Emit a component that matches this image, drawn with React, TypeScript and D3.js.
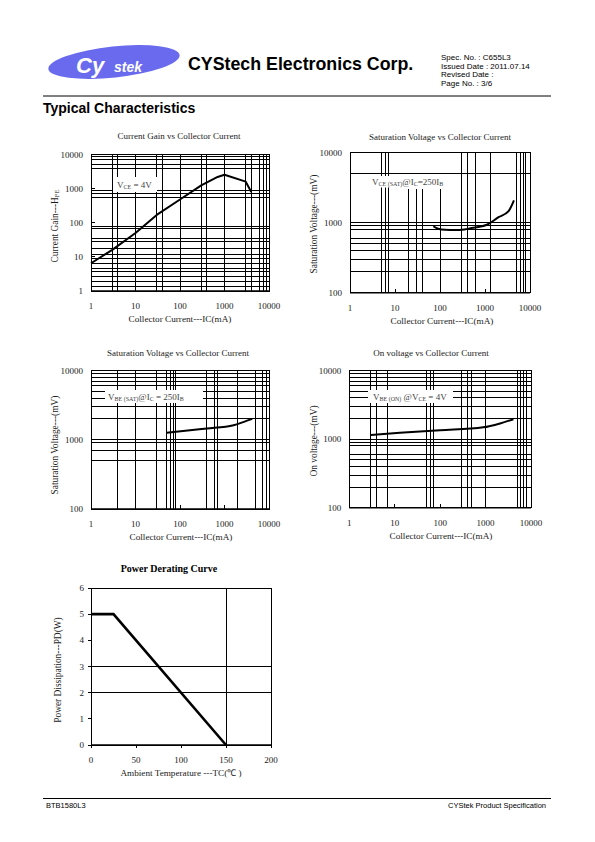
import React from "react";
import * as d3 from "d3";

const SERIF = "'Liberation Serif','Times New Roman',serif";
const SANS = "'Liberation Sans',Arial,sans-serif";

type Part = [string, boolean];

// ---------------- data ----------------
const decadeTicks = [1, 10, 100, 1000, 10000];
const mvTicks = [100, 1000, 10000];

// Chart 1: Current gain vs collector current
const gainIc = [1, 3, 10, 30, 100, 300, 700, 1000, 3000, 4000];
const gainHfe = [6.5, 16, 50, 170, 480, 1250, 2200, 2550, 1600, 800];
const gainGridX = [3, 4, 10, 30, 40, 100, 300, 400, 1000, 3000, 4000, 6000, 7500, 9000];
const gainGridY = [1.4, 1.9, 2.7, 3.8, 4.7, 6.6, 9, 12, 18, 28, 35, 70, 80, 550, 700, 880, 4000, 5000, 7000, 9000];

// Chart 2: VCE(sat) vs collector current
const vceIc = [71, 91, 130, 215, 350, 505, 800, 1100, 2000, 3300, 4400];
const vceMv = [890, 820, 790, 785, 800, 840, 880, 935, 1200, 1450, 2090];
const vceGridX = [5, 6, 7, 300, 400, 600, 1300, 5000, 6000, 7000, 8000];
const vceGridXShort = [20, 30, 40, 100];
const vceGridY = [200, 300, 400, 500, 600, 800, 900, 1000, 5000];

// Chart 3: VBE(sat) vs collector current
const vbeSatIc = [50, 168, 400, 1600, 2650, 4200];
const vbeSatMv = [1260, 1370, 1450, 1620, 1800, 2000];
const vbeSatGridX = [4, 10, 30, 50, 60, 70, 80, 400, 600, 700, 2000, 5000, 7000, 9000];
const vbeSatGridY = [500, 700, 900, 1000, 2000, 3000, 4000, 5000, 6000, 7000, 8000, 9000];

// Chart 4: VBE(on) vs collector current
const vbeOnIc = [3, 13, 100, 890, 2090, 4100];
const vbeOnMv = [1150, 1240, 1350, 1490, 1700, 1960];
const vbeOnGridX = [3, 4, 7, 50, 60, 70, 300, 400, 500, 1000, 5000, 6000, 7000, 8000];
const vbeOnGridY = [200, 300, 400, 500, 600, 800, 900, 1000, 2000, 3000, 4000, 5000, 6000, 7000, 8000, 9000];

// Chart 5: Power derating
const tempC = [0, 25, 150];
const powerW = [5, 5, 0];
const tempTicks = [0, 50, 100, 150, 200];
const powerTicks = [0, 1, 2, 3, 4, 5, 6];
const tempGrid = [150];
const powerGrid = [2, 3];

// ---------------- helpers ----------------
function rich(parts: Part[], size: number, sub: number, shift: number) {
  let cur = 0;
  return parts.map(([t, s], i) => {
    const target = s ? shift : 0;
    const dy = target - cur;
    cur = target;
    return (
      <tspan key={i} fontSize={s ? sub : size} dy={dy !== 0 ? dy : undefined}>
        {t}
      </tspan>
    );
  });
}

interface LogProps {
  x0: number; x1: number; y0: number; y1: number;
  yDomain: [number, number];
  yTicks: number[];
  gridX: number[];
  gridXShort?: number[];
  shortTo?: number;
  gridY: number[];
  xs: number[];
  ys: number[];
  curve: d3.CurveFactory;
  title: string; titleX: number; titleY: number;
  yTitle: Part[]; yTitleX: number; yTitleY: number;
  xTitleX: number;
  box: [number, number, number, number];
  label: Part[]; labelX: number; labelY: number;
}

const TXT = "#1a1a1a";

function LogChart(p: LogProps) {
  const x = d3.scaleLog().domain([1, 10000]).range([p.x0, p.x1]);
  const y = d3.scaleLog().domain(p.yDomain).range([p.y0, p.y1]);
  const line = d3
    .line<number>()
    .x((_, i) => x(p.xs[i]))
    .y((d) => y(d))
    .curve(p.curve);
  const yDec = p.yTicks;
  return (
    <g>
      <g stroke="#000" strokeWidth={1} shapeRendering="crispEdges">
        {p.gridX.map((v, i) => (
          <line key={"gx" + i} x1={x(v)} x2={x(v)} y1={p.y1} y2={p.y0} />
        ))}
        {(p.gridXShort || []).map((v, i) => (
          <line key={"gs" + i} x1={x(v)} x2={x(v)} y1={y(p.shortTo || 1)} y2={p.y0} />
        ))}
        {p.gridY.map((v, i) => (
          <line key={"gy" + i} x1={p.x0} x2={p.x1} y1={y(v)} y2={y(v)} />
        ))}
        {decadeTicks.map((v, i) => (
          <line key={"tx" + i} x1={x(v)} x2={x(v)} y1={p.y0} y2={p.y0 - 4} />
        ))}
        {yDec.map((v, i) => (
          <line key={"ty" + i} x1={p.x0} x2={p.x0 + 4} y1={y(v)} y2={y(v)} />
        ))}
      </g>
      <rect x={p.box[0]} y={p.box[1]} width={p.box[2]} height={p.box[3]} fill="#fff" />
      <rect
        x={p.x0}
        y={p.y1}
        width={p.x1 - p.x0}
        height={p.y0 - p.y1}
        fill="none"
        stroke="#000"
        strokeWidth={1}
        shapeRendering="crispEdges"
      />
      <line x1={p.x0} x2={p.x1} y1={p.y0} y2={p.y0} stroke="#000" strokeWidth={1.6} />
      <text x={p.labelX} y={p.labelY} fontFamily={SERIF} fill="#444">
        {rich(p.label, 9, 6, 0.5)}
      </text>
      <path d={line(p.ys) || ""} fill="none" stroke="#000" strokeWidth={2} strokeLinejoin="round" />
      <g fontFamily={SERIF} fontSize={9} fill={TXT}>
        {decadeTicks.map((v, i) => (
          <text key={"lx" + i} x={x(v)} y={p.y0 + 18} textAnchor="middle">
            {String(v)}
          </text>
        ))}
        {yDec.map((v, i) => (
          <text key={"ly" + i} x={p.x0 - 8} y={y(v) + 3} textAnchor="end">
            {String(v)}
          </text>
        ))}
        <text x={p.titleX} y={p.titleY} textAnchor="middle">
          {p.title}
        </text>
        <text x={p.xTitleX} y={p.y0 + 31} textAnchor="middle" fontSize={9.2}>
          Collector Current---IC(mA)
        </text>
        <text
          transform={`translate(${p.yTitleX},${p.yTitleY}) rotate(-90)`}
          textAnchor="middle"
        >
          {rich(p.yTitle, 9.4, 6.5, 1)}
        </text>
      </g>
    </g>
  );
}

function PowerChart() {
  const x0 = 91, x1 = 271, y0 = 745, y1 = 588;
  const x = d3.scaleLinear().domain([0, 200]).range([x0, x1]);
  const y = d3.scaleLinear().domain([0, 6]).range([y0, y1]);
  const line = d3
    .line<number>()
    .x((_, i) => x(tempC[i]))
    .y((d) => y(d));
  return (
    <g>
      <g stroke="#000" strokeWidth={1} shapeRendering="crispEdges">
        {tempGrid.map((v, i) => (
          <line key={"gx" + i} x1={x(v)} x2={x(v)} y1={y1} y2={y0} />
        ))}
        {powerGrid.map((v, i) => (
          <line key={"gy" + i} x1={x0} x2={x1} y1={y(v)} y2={y(v)} />
        ))}
        {tempTicks.map((v, i) => (
          <line key={"tx" + i} x1={x(v)} x2={x(v)} y1={y0} y2={y0 + 3} />
        ))}
        {powerTicks.map((v, i) => (
          <line key={"ty" + i} x1={x0 - 3} x2={x0} y1={y(v)} y2={y(v)} />
        ))}
        <rect x={x0} y={y1} width={x1 - x0} height={y0 - y1} fill="none" />
      </g>
      <line x1={x0} x2={x1} y1={y0} y2={y0} stroke="#000" strokeWidth={1.6} />
      <path d={line(powerW) || ""} fill="none" stroke="#000" strokeWidth={2.6} />
      <g fontFamily={SERIF} fontSize={9} fill={TXT}>
        {tempTicks.map((v, i) => (
          <text key={"lx" + i} x={x(v)} y={y0 + 18} textAnchor="middle">
            {String(v)}
          </text>
        ))}
        {powerTicks.map((v, i) => (
          <text key={"ly" + i} x={x0 - 7} y={y(v) + 3} textAnchor="end">
            {String(v)}
          </text>
        ))}
        <text x={169} y={572} textAnchor="middle" fontSize={10} fontWeight="bold" fill="#000">
          Power Derating Curve
        </text>
        <text x={181} y={y0 + 31} textAnchor="middle" fontSize={9.2}>
          Ambient Temperature ---TC(℃ )
        </text>
        <text transform={`translate(61,670) rotate(-90)`} textAnchor="middle" fontSize={9.4}>
          Power Dissipation---PD(W)
        </text>
      </g>
    </g>
  );
}

export default function App() {
  return (
    <svg
      width={595}
      height={842}
      viewBox="0 0 595 842"
      style={{ position: "absolute", left: 0, top: 0, background: "#fff" }}
    >
      <rect width={595} height={842} fill="#fff" />
      {/* Header */}
      <ellipse cx={114} cy={62} rx={66} ry={15.5} fill="#6a6aef" transform="rotate(-6 114 62)" />
      <text x={76} y={73} fontFamily={SANS} fontWeight="bold" fontStyle="italic" fontSize={22} fill="#fff">
        Cy
      </text>
      <text x={114} y={72} fontFamily={SANS} fontWeight="bold" fontStyle="italic" fontSize={14} fill="#fff">
        stek
      </text>
      <text x={188} y={70} fontFamily={SANS} fontWeight="bold" fontSize={17.8} fill="#000">
        CYStech Electronics Corp.
      </text>
      <g fontFamily={SANS} fontSize={8} fill="#000">
        <text x={441} y={60}>Spec. No. : C655L3</text>
        <text x={441} y={68.5}>Issued Date : 2011.07.14</text>
        <text x={441} y={77}>Revised Date :</text>
        <text x={441} y={85.5}>Page No. : 3/6</text>
      </g>
      <line x1={43} x2={551} y1={96} y2={96} stroke="#000" strokeWidth={1} />
      <text x={43} y={113} fontFamily={SANS} fontWeight="bold" fontSize={14} fill="#000">
        Typical Characteristics
      </text>

      <LogChart
        x0={91} x1={269} y0={291} y1={154.5}
        yDomain={[1, 10000]} yTicks={decadeTicks}
        gridX={gainGridX} gridY={gainGridY}
        xs={gainIc} ys={gainHfe} curve={d3.curveLinear}
        title="Current Gain vs Collector Current" titleX={179} titleY={139}
        yTitle={[["Current Gain---H", false], ["FE", true]]} yTitleX={58} yTitleY={226}
        xTitleX={180}
        box={[113, 177, 44, 15]}
        label={[["V", false], ["CE", true], [" = 4V", false]]} labelX={117} labelY={188}
      />
      <LogChart
        x0={350} x1={530} y0={292.7} y1={152.7}
        yDomain={[100, 10000]} yTicks={mvTicks}
        gridX={vceGridX} gridXShort={vceGridXShort} shortTo={3000} gridY={vceGridY}
        xs={vceIc} ys={vceMv} curve={d3.curveMonotoneX}
        title="Saturation Voltage vs Collector Current" titleX={440} titleY={140}
        yTitle={[["Saturation Voltage---(mV)", false]]} yTitleX={317} yTitleY={224}
        xTitleX={442}
        box={[368, 176, 80, 11.5]}
        label={[["V", false], ["CE (SAT)", true], ["@I", false], ["C", true], ["=250I", false], ["B", true]]}
        labelX={372} labelY={185}
      />
      <LogChart
        x0={91} x1={269} y0={509} y1={370.5}
        yDomain={[100, 10000]} yTicks={mvTicks}
        gridX={vbeSatGridX} gridY={vbeSatGridY}
        xs={vbeSatIc} ys={vbeSatMv} curve={d3.curveMonotoneX}
        title="Saturation Voltage vs Collector Current" titleX={178} titleY={356}
        yTitle={[["Saturation Voltage---(mV)", false]]} yTitleX={58} yTitleY={445}
        xTitleX={181}
        box={[105, 390, 98, 13]}
        label={[["V", false], ["BE (SAT)", true], ["@I", false], ["C", true], [" = 250I", false], ["B", true]]}
        labelX={108} labelY={400}
      />
      <LogChart
        x0={349.3} x1={531} y0={507.7} y1={370.7}
        yDomain={[100, 10000]} yTicks={mvTicks}
        gridX={vbeOnGridX} gridY={vbeOnGridY}
        xs={vbeOnIc} ys={vbeOnMv} curve={d3.curveMonotoneX}
        title="On voltage vs Collector Current" titleX={431} titleY={356}
        yTitle={[["On voltage---(mV)", false]]} yTitleX={317} yTitleY={441}
        xTitleX={441}
        box={[368, 390, 85, 13]}
        label={[["V", false], ["BE (ON)", true], [" @V", false], ["CE", true], [" = 4V", false]]}
        labelX={373} labelY={400}
      />
      <PowerChart />

      {/* Footer */}
      <line x1={43} x2={551} y1={798.5} y2={798.5} stroke="#000" strokeWidth={1} />
      <g fontFamily={SANS} fontSize={7.5} fill="#000">
        <text x={46} y={808}>BTB1580L3</text>
        <text x={546} y={808} textAnchor="end">CYStek Product Specification</text>
      </g>
    </svg>
  );
}
